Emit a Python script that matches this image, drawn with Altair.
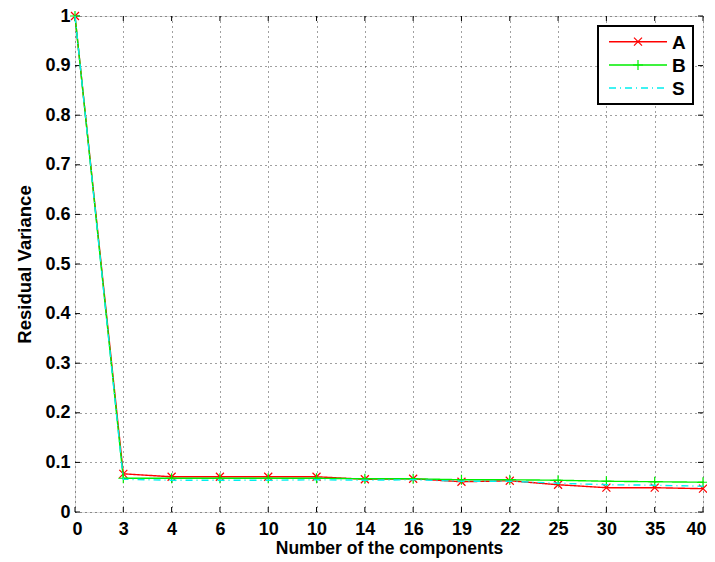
import json
import altair as alt
import pandas as pd

# ---- data ----
x_labels = ["0", "3", "4", "6", "10", "10", "14", "16", "19", "22", "25", "30", "35", "40"]
series_names = ["A", "B", "S"]
values_A = [1.0, 0.077, 0.071, 0.071, 0.071, 0.071, 0.066, 0.067, 0.061, 0.063, 0.055, 0.049, 0.049, 0.047]
values_B = [1.0, 0.068, 0.068, 0.068, 0.068, 0.068, 0.067, 0.067, 0.065, 0.065, 0.064, 0.062, 0.061, 0.060]
values_S = [1.0, 0.066, 0.064, 0.064, 0.064, 0.065, 0.064, 0.065, 0.062, 0.062, 0.058, 0.055, 0.054, 0.052]
y_ticks = [0.0, 0.1, 0.2, 0.3, 0.4, 0.5, 0.6, 0.7, 0.8, 0.9, 1.0]

W, H = 628, 496
FONT = "Liberation Sans"

colors = {"A": "#ff0000", "B": "#00ee00", "S": "#00eeee"}
dashes = {"A": [1, 0], "B": [1, 0], "S": [7, 4, 1, 4]}
shapes = {"A": "M-1,-1L1,1M1,-1L-1,1", "B": "M-1,0L1,0M0,-1L0,1", "S": None}
msize = {"A": 64, "B": 100}
all_vals = {"A": values_A, "B": values_B, "S": values_S}

idx = list(range(len(x_labels)))
label_expr = json.dumps(x_labels) + "[datum.value]"

xscale = alt.Scale(domain=[0, len(x_labels) - 1], nice=False, zero=False)
yscale = alt.Scale(domain=[0, 1], nice=False)

xaxis = alt.Axis(values=idx, labelExpr=label_expr, title="Number of the components",
                 grid=True, gridColor="black", gridDash=[1, 4], gridOpacity=0.75,
                 ticks=False, domain=False, labelFont=FONT, labelFontSize=18,
                 labelFontWeight="bold", labelColor="black", labelPadding=8,
                 titleFont=FONT, titleFontSize=17.5, titleFontWeight="bold",
                 titleColor="black", titlePadding=1, labelFlush=True,
                 labelFlushOffset=3, labelOverlap=False)
yaxis = alt.Axis(values=y_ticks, labelExpr="format(datum.value, '~g')",
                 title="Residual Variance",
                 grid=True, gridColor="black", gridDash=[1, 4], gridOpacity=0.75,
                 ticks=False, domain=False, labelFont=FONT, labelFontSize=18,
                 labelFontWeight="bold", labelColor="black", labelPadding=5,
                 titleFont=FONT, titleFontSize=18.5, titleFontWeight="bold",
                 titleColor="black", titlePadding=10, labelFlush=False,
                 labelOverlap=False)

layers = []

# axis grid base
base_df = pd.DataFrame({"i": idx})
layers.append(
    alt.Chart(base_df).mark_point(opacity=0).encode(
        x=alt.X("i:Q", scale=xscale, axis=xaxis),
        y=alt.Y("v:Q", scale=yscale, axis=yaxis),
    ).transform_calculate(v="0")
)

# inner ticks (bottom / top)
tick_x = pd.DataFrame({"i": idx})
for y0, y1 in [(H, H - 5), (0, 5)]:
    layers.append(
        alt.Chart(tick_x).mark_rule(color="black", strokeWidth=1).encode(
            x=alt.X("i:Q", scale=xscale), y=alt.value(y0), y2=alt.value(y1)
        )
    )
# inner ticks (left / right)
tick_y = pd.DataFrame({"t": y_ticks})
for x0, x1 in [(0, 5), (W, W - 5)]:
    layers.append(
        alt.Chart(tick_y).mark_rule(color="black", strokeWidth=1).encode(
            y=alt.Y("t:Q", scale=yscale), x=alt.value(x0), x2=alt.value(x1)
        )
    )

# series lines and markers
for name in series_names:
    df = pd.DataFrame({"i": idx, "v": all_vals[name]})
    layers.append(
        alt.Chart(df).mark_line(color=colors[name], strokeWidth=1.4,
                                strokeDash=dashes[name]).encode(
            x=alt.X("i:Q", scale=xscale), y=alt.Y("v:Q", scale=yscale)
        )
    )
    if shapes[name]:
        layers.append(
            alt.Chart(df).mark_point(shape=shapes[name], size=msize[name],
                                     filled=False, color=colors[name],
                                     strokeWidth=1.2, opacity=1).encode(
                x=alt.X("i:Q", scale=xscale), y=alt.Y("v:Q", scale=yscale)
            )
        )

# legend (manual)
one = pd.DataFrame({"k": [0]})
layers.append(
    alt.Chart(one).mark_rect(fill="white", stroke="black", strokeWidth=2).encode(
        x=alt.value(523), x2=alt.value(618), y=alt.value(10), y2=alt.value(88)
    )
)
row_y = {"A": 25.7, "B": 49, "S": 72}
for name in series_names:
    layers.append(
        alt.Chart(one).mark_rule(color=colors[name], strokeWidth=1.4,
                                 strokeDash=dashes[name]).encode(
            x=alt.value(534), x2=alt.value(592), y=alt.value(row_y[name])
        )
    )
    if shapes[name]:
        layers.append(
            alt.Chart(one).mark_point(shape=shapes[name], size=msize[name],
                                      filled=False, color=colors[name],
                                      strokeWidth=1.2, opacity=1).encode(
                x=alt.value(563), y=alt.value(row_y[name])
            )
        )
    layers.append(
        alt.Chart(one).mark_text(text=name, font=FONT, fontSize=19,
                                 fontWeight="bold", color="black",
                                 align="left", baseline="middle").encode(
            x=alt.value(597), y=alt.value(row_y[name] + 1)
        )
    )

chart = alt.layer(*layers).properties(
    width=W, height=H,
    autosize=alt.AutoSizeParams(type="none"),
    padding={"left": 67, "top": 8, "right": 4, "bottom": 46},
).configure_view(stroke="black", strokeWidth=1.5).configure(background="white")

chart.save("out.html", embed_options={"renderer": "svg", "actions": False})
